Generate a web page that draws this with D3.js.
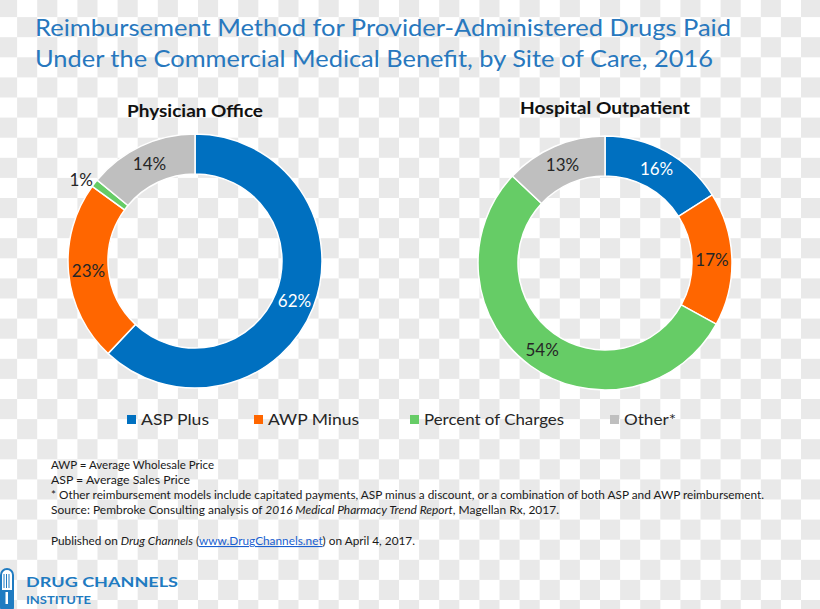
<!DOCTYPE html>
<html>
<head>
<meta charset="utf-8">
<script src="https://cdn.jsdelivr.net/npm/d3@7"></script>
<style>
  html, body { margin: 0; padding: 0; background: #ffffff; }
  svg { display: block; }
</style>
</head>
<body>
<svg id="chart" width="820" height="609"></svg>
<script>
// ---- data ----
const categories = ["ASP Plus", "AWP Minus", "Percent of Charges", "Other*"];
const physicianValues = [62, 23, 1, 14];
const hospitalValues = [16, 17, 54, 13];
const panelTitles = ["Physician Office", "Hospital Outpatient"];
const titleLines = [
  "Reimbursement Method for Provider-Administered Drugs Paid",
  "Under the Commercial Medical Benefit, by Site of Care, 2016"
];
const noteLines = [
  "AWP = Average Wholesale Price",
  "ASP = Average Sales Price",
  "* Other reimbursement models include capitated payments, ASP minus a discount, or a combination of both ASP and AWP reimbursement."
];

// ---- styles ----
const colors = ["#0070C0", "#FF6600", "#66CC66", "#BFBFBF"];
const labelColors = ["#ffffff", "#262626", "#262626", "#262626"];
const FONT = "Lato, 'Open Sans', sans-serif";

const svg = d3.select("#chart");

// checkerboard background (transparency grid of the source image)
const P = 20.1;
const cells = [];
d3.range(0, 42).forEach(i => d3.range(0, 32).forEach(j => {
  if ((i + j) % 2 === 0) cells.push([i, j]);
}));
svg.append("rect").attr("width", 820).attr("height", 609).attr("fill", "#ffffff");
svg.append("g").selectAll("rect").data(cells).join("rect")
  .attr("x", d => -3 + d[0] * P).attr("y", d => -3 + d[1] * P)
  .attr("width", P).attr("height", P).attr("fill", "#e9e9e9");

// title
const titleColor = "#2878BE";
svg.append("g").selectAll("text").data(titleLines).join("text")
  .attr("x", 35).attr("y", (d, i) => 36 + i * 31)
  .attr("font-family", FONT).attr("font-size", 24)
  .attr("fill", titleColor)
  .attr("textLength", (d, i) => i === 0 ? 696 : 678)
  .attr("lengthAdjust", "spacingAndGlyphs")
  .text(d => d);

// donuts
const pie = d3.pie().sort(null).value(d => d);
const rIn = 87, rOut = 127;
const arc = d3.arc().innerRadius(rIn).outerRadius(rOut);
const labelArc = d3.arc().innerRadius(107).outerRadius(107);
const outArc = d3.arc().innerRadius(144).outerRadius(144);

const panels = [
  { values: physicianValues, cx: 195, cy: 261, title: panelTitles[0], ty: 117, tw: 136 },
  { values: hospitalValues, cx: 605, cy: 263, title: panelTitles[1], ty: 114, tw: 170 }
];

panels.forEach(p => {
  const g = svg.append("g").attr("transform", `translate(${p.cx},${p.cy})`);
  const arcs = pie(p.values);
  g.selectAll("path").data(arcs).join("path")
    .attr("d", arc)
    .attr("fill", (d, i) => colors[i])
    .attr("stroke", "#ffffff").attr("stroke-width", 1.5);
  g.selectAll("text.lbl").data(arcs).join("text").attr("class", "lbl")
    .attr("transform", d => `translate(${(d.data < 5 ? outArc : labelArc).centroid(d)})`)
    .attr("dy", d => d.data < 5 ? "0.8em" : "0.36em")
    .attr("text-anchor", "middle")
    .attr("font-family", FONT).attr("font-size", 17)
    .attr("fill", (d, i) => d.data < 5 ? "#262626" : labelColors[i])
    .text(d => d.data + "%");
  svg.append("text")
    .attr("x", p.cx).attr("y", p.ty)
    .attr("text-anchor", "middle")
    .attr("font-family", FONT).attr("font-size", 17).attr("font-weight", "bold")
    .attr("fill", "#111111")
    .attr("textLength", p.tw).attr("lengthAdjust", "spacingAndGlyphs")
    .text(p.title);
});

// legend
const legendX = [127, 254, 410, 610];
const legendW = [68, 91, 140, 52];
const lg = svg.append("g").selectAll("g").data(categories).join("g")
  .attr("transform", (d, i) => `translate(${legendX[i]},0)`);
lg.append("rect").attr("x", 0).attr("y", 415).attr("width", 9).attr("height", 9)
  .attr("fill", (d, i) => colors[i]);
lg.append("text").attr("x", 14).attr("y", 425)
  .attr("font-family", FONT).attr("font-size", 15).attr("fill", "#262626")
  .attr("textLength", (d, i) => legendW[i]).attr("lengthAdjust", "spacingAndGlyphs")
  .text(d => d);

// notes
const noteW = [163, 139, 713];
svg.append("g").selectAll("text").data(noteLines).join("text")
  .attr("x", 51).attr("y", (d, i) => 469 + i * 15)
  .attr("font-family", FONT).attr("font-size", 11).attr("fill", "#1a1a1a")
  .attr("textLength", (d, i) => noteW[i]).attr("lengthAdjust", "spacingAndGlyphs")
  .text(d => d);

const src = svg.append("text").attr("x", 51).attr("y", 514)
  .attr("font-family", FONT).attr("font-size", 11).attr("fill", "#1a1a1a")
  .attr("textLength", 508).attr("lengthAdjust", "spacingAndGlyphs");
src.append("tspan").text("Source: Pembroke Consulting analysis of ");
src.append("tspan").attr("font-style", "italic").text("2016 Medical Pharmacy Trend Report");
src.append("tspan").text(", Magellan Rx, 2017.");

const pub = svg.append("text").attr("x", 51).attr("y", 545)
  .attr("font-family", FONT).attr("font-size", 11).attr("fill", "#1a1a1a")
  .attr("textLength", 364).attr("lengthAdjust", "spacingAndGlyphs");
pub.append("tspan").text("Published on ");
pub.append("tspan").attr("font-style", "italic").text("Drug Channels");
pub.append("tspan").text(" (");
pub.append("tspan").attr("fill", "#1a5fd0").attr("text-decoration", "underline").text("www.DrugChannels.net");
pub.append("tspan").text(") on April 4, 2017.");

// logo
const logoC = "#1f7bc1";
const logo = svg.append("g");
logo.append("rect").attr("x", 1).attr("y", 569).attr("width", 12).attr("height", 44).attr("rx", 6)
  .attr("fill", "#ffffff").attr("stroke", logoC).attr("stroke-width", 2);
logo.append("rect").attr("x", 1).attr("y", 590).attr("width", 12).attr("height", 22)
  .attr("fill", logoC);
logo.append("rect").attr("x", 5.5).attr("y", 592).attr("width", 2.5).attr("height", 12)
  .attr("fill", "#ffffff");
[4, 6.5, 9].forEach(x => logo.append("line")
  .attr("x1", x).attr("x2", x).attr("y1", 574).attr("y2", 588)
  .attr("stroke", logoC).attr("stroke-width", 1));
logo.append("text").attr("x", 26).attr("y", 587)
  .attr("font-family", FONT).attr("font-size", 14).attr("font-weight", "bold")
  .attr("fill", logoC).attr("textLength", 152).attr("lengthAdjust", "spacingAndGlyphs")
  .text("DRUG CHANNELS");
logo.append("text").attr("x", 26).attr("y", 604)
  .attr("font-family", FONT).attr("font-size", 11).attr("font-weight", "bold")
  .attr("fill", logoC).attr("textLength", 65).attr("lengthAdjust", "spacingAndGlyphs")
  .text("INSTITUTE");
</script>
</body>
</html>
